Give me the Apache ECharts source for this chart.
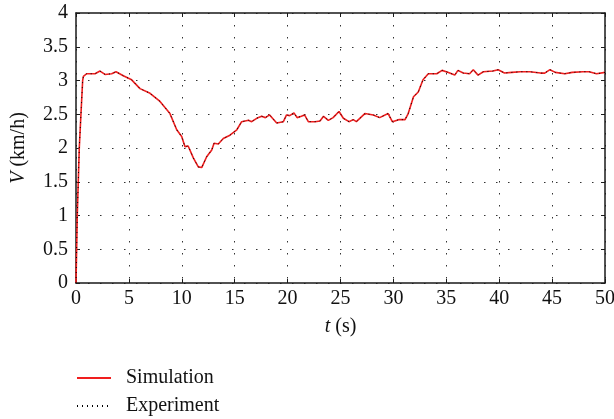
<!DOCTYPE html>
<html>
<head>
<meta charset="utf-8">
<script src="https://cdn.jsdelivr.net/npm/echarts@6/dist/echarts.min.js"></script>
<style>html,body{margin:0;padding:0;background:#fff}#c{width:614px;height:419px}</style>
</head>
<body>
<div id="c"></div>
<script>
var timeS = [0,0.12,0.31,0.5,0.63,0.7,1.0,1.8,2.27,2.74,3.37,3.78,4.47,5.26,6.05,7.0,7.94,8.88,9.52,9.99,10.3,10.6,11.1,11.56,11.88,12.35,12.83,13.05,13.45,13.6,13.92,14.55,15.2,15.66,16.3,16.6,17.08,17.55,17.9,18.3,18.97,19.6,19.9,20.2,20.6,20.9,21.3,21.6,21.96,22.6,23.06,23.4,23.85,24.3,24.86,25.27,25.8,26.2,26.5,27.3,28.1,28.7,29.5,29.9,30.5,31.1,31.4,31.9,32.35,32.8,33.3,34.1,34.6,35.2,35.8,36.1,36.6,37.2,37.55,38.0,38.5,39.4,39.9,40.5,41.2,42.0,42.9,43.9,44.3,44.8,45.3,46.2,46.9,47.9,48.5,49.2,50.0];
var simulationV = [0,1.0,2.0,2.6,3.0,3.06,3.10,3.10,3.14,3.09,3.10,3.13,3.07,3.01,2.88,2.81,2.69,2.51,2.27,2.17,2.02,2.03,1.85,1.72,1.71,1.87,1.97,2.07,2.06,2.04,2.14,2.19,2.27,2.39,2.41,2.39,2.44,2.47,2.45,2.49,2.37,2.39,2.49,2.48,2.52,2.45,2.47,2.49,2.39,2.39,2.40,2.47,2.41,2.45,2.54,2.44,2.39,2.42,2.39,2.51,2.49,2.45,2.51,2.39,2.42,2.42,2.51,2.76,2.83,3.01,3.10,3.10,3.15,3.12,3.08,3.15,3.11,3.10,3.16,3.08,3.13,3.14,3.16,3.11,3.12,3.13,3.13,3.11,3.11,3.16,3.12,3.10,3.12,3.13,3.13,3.10,3.12];
var experimentV = [0,1.0,2.0,2.6,3.0,3.06,3.10,3.10,3.14,3.09,3.10,3.13,3.07,3.01,2.88,2.81,2.69,2.51,2.27,2.17,2.02,2.03,1.85,1.72,1.71,1.87,1.97,2.07,2.06,2.04,2.14,2.19,2.27,2.39,2.41,2.39,2.44,2.47,2.45,2.49,2.37,2.39,2.49,2.48,2.52,2.45,2.47,2.49,2.39,2.39,2.40,2.47,2.41,2.45,2.54,2.44,2.39,2.42,2.39,2.51,2.49,2.45,2.51,2.39,2.42,2.42,2.51,2.76,2.83,3.01,3.10,3.10,3.15,3.12,3.08,3.15,3.11,3.10,3.16,3.08,3.13,3.14,3.16,3.11,3.12,3.13,3.13,3.11,3.11,3.16,3.12,3.10,3.12,3.13,3.13,3.10,3.12];
var seriesNames = ['Simulation','Experiment'];

function zip(a,b){var r=[];for(var i=0;i<a.length;i++)r.push([a[i],b[i]]);return r;}

var FONT = '"Liberation Serif", "DejaVu Serif", serif';
var FS = 20;
var chart = echarts.init(document.getElementById('c'), null, {renderer:'canvas'});
var axisLine = {show:true, onZero:false, lineStyle:{color:'#1a1a1a', width:1.5}};
var tick = {show:true, inside:true, length:4, lineStyle:{color:'#1a1a1a'}};
var grid = {type:[1.5,10.5], color:'#333', width:1};
var nameStyle = {fontFamily:FONT, fontSize:FS, color:'#111', rich:{i:{fontFamily:FONT, fontSize:FS, fontStyle:'italic', color:'#111'}}};
chart.setOption({
  animation:false,
  textStyle:{fontFamily:FONT},
  grid:{left:76, right:9, top:13, bottom:136, containLabel:false, outerBoundsMode:'none'},
  legend:{
    orient:'vertical', left:76, top:368, padding:0, height:60, itemWidth:34, itemHeight:14, itemGap:8,
    itemStyle:{opacity:0},
    textStyle:{fontFamily:FONT, fontSize:FS, color:'#111', padding:[0,0,0,10]},
    data:seriesNames
  },
  xAxis:[{
    type:'value', min:0, max:50, interval:5,
    name:'{i|t} (s)', nameLocation:'middle', nameGap:34, nameTextStyle:nameStyle,
    axisLine:axisLine, axisTick:tick,
    axisLabel:{fontFamily:FONT, fontSize:FS, color:'#111', margin:6},
    splitLine:{show:true, lineStyle:grid}
  },{
    type:'value', min:0, max:50, interval:5, position:'top',
    axisLine:axisLine, axisTick:tick,
    axisLabel:{show:false}, splitLine:{show:false}
  }],
  yAxis:[{
    type:'value', min:0, max:4, interval:0.5,
    name:'{i|V} (km/h)', nameLocation:'middle', nameGap:47, nameRotate:90, nameTextStyle:nameStyle,
    axisLine:axisLine, axisTick:tick,
    axisLabel:{fontFamily:FONT, fontSize:FS, color:'#111', margin:8},
    splitLine:{show:true, lineStyle:grid}
  },{
    type:'value', min:0, max:4, interval:0.5, position:'right',
    axisLine:axisLine, axisTick:tick,
    axisLabel:{show:false}, splitLine:{show:false}
  }],
  series:[{
    name:seriesNames[0], type:'line', showSymbol:false, symbol:'none',
    data:zip(timeS, simulationV),
    lineStyle:{color:'#f01e1e', width:1.6}, itemStyle:{color:'#f01e1e'}, z:2
  },{
    name:seriesNames[1], type:'line', showSymbol:false, symbol:'none',
    data:zip(timeS, experimentV),
    lineStyle:{color:'#000', width:1, type:[1,4]}, itemStyle:{color:'#000'}, z:3
  }]
});
</script>
</body>
</html>
